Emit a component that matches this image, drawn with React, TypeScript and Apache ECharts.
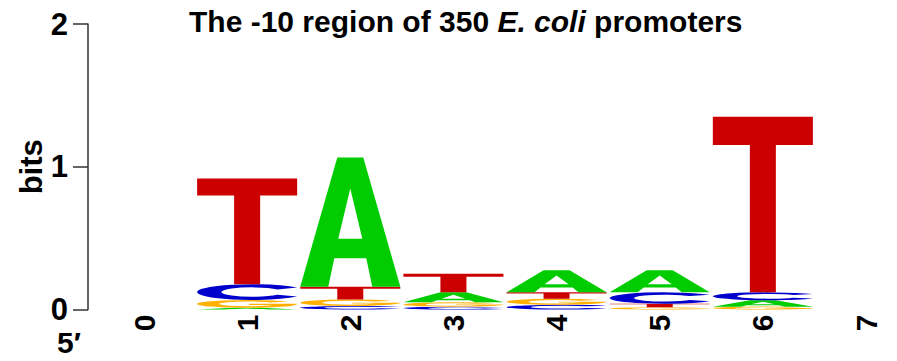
import React, { useEffect, useRef } from "react";
import * as echarts from "echarts";

// Sequence logo data (bits per letter at each position)
const POSITIONS = [1, 2, 3, 4, 5, 6];
const A_BITS = [0.012, 0.905, 0.07, 0.155, 0.155, 0.045];
const C_BITS = [0.11, 0.025, 0.02, 0.033, 0.08, 0.055];
const G_BITS = [0.055, 0.045, 0.03, 0.042, 0.015, 0.02];
const T_BITS = [0.74, 0.09, 0.13, 0.045, 0.025, 1.23];
const X_LABELS = ["0", "1", "2", "3", "4", "5", "6", "7"];
const Y_TICKS = [0, 1, 2];

const LETTERS = ["A", "C", "G", "T"];
const COLORS = ["#00cc00", "#0000cc", "#ffb000", "#cc0000"];
const PATHS = [
  // A
  "M0,100 L37,0 L63,0 L100,100 L72,100 L66,78 L34,78 L28,100 Z M50,24 L38,63 L62,63 Z",
  // C
  "M90.96,21.32 A50,50 0 1 0 90.96,78.68 L72.94,67.21 A28,30 0 1 1 72.94,32.79 Z",
  // G
  "M90.96,21.32 A50,50 0 1 0 100,50 L52,50 L52,63 L75.2,63 A28,30 0 1 1 72.94,32.79 Z",
  // T
  "M0,0 L100,0 L100,16 L63,16 L63,100 L37,100 L37,16 L0,16 Z",
];

const FONT = "'Liberation Sans', Arial, Helvetica, sans-serif";

function buildStacks() {
  const out: number[][] = [];
  const cols = [A_BITS, C_BITS, G_BITS, T_BITS];
  POSITIONS.forEach((pos, i) => {
    const items = cols.map((arr, li) => ({ li, h: arr[i] }));
    items.sort((a, b) => a.h - b.h);
    let base = 0;
    items.forEach((it) => {
      out.push([pos, base, base + it.h, it.li]);
      base += it.h;
    });
  });
  return out;
}

export default function App() {
  const ref = useRef<HTMLDivElement>(null);
  useEffect(() => {
    if (!ref.current) return;
    const chart = echarts.init(ref.current, null, { renderer: "svg" });
    const data = buildStacks();
    const yMin = Y_TICKS[0];
    const yMax = Y_TICKS[Y_TICKS.length - 1];
    chart.setOption({
      animation: false,
      backgroundColor: "#ffffff",
      title: {
        text: "{b|The -10 region of 350 }{i|E. coli}{b| promoters}",
        left: 189,
        top: 6,
        padding: 0,
        textStyle: {
          rich: {
            b: { fontFamily: FONT, fontWeight: "bold", fontSize: 30, color: "#000", lineHeight: 30 },
            i: { fontFamily: FONT, fontWeight: "bold", fontStyle: "italic", fontSize: 30, color: "#000", lineHeight: 30 },
          },
        },
      },
      grid: [
        { left: 88, right: 897 - 89, top: 24, bottom: 51.5, containLabel: false },
        { left: 144, right: 31, top: 24, bottom: 51.5, containLabel: false },
      ],
      xAxis: [
        {
          gridIndex: 0,
          type: "value",
          min: 0,
          max: 1,
          show: false,
        },
        {
          gridIndex: 1,
          type: "value",
          min: 0,
          max: 7,
          interval: 1,
          axisLine: { show: false },
          axisTick: { show: false },
          splitLine: { show: false },
          axisLabel: {
            rotate: 90,
            margin: 5,
            fontFamily: FONT,
            fontWeight: "bold",
            fontSize: 30,
            color: "#000",
            formatter: (v: number) => X_LABELS[v] ?? "",
          },
        },
      ],
      yAxis: [
        {
          gridIndex: 0,
          type: "value",
          min: yMin,
          max: yMax,
          interval: 1,
          name: "bits",
          nameLocation: "middle",
          nameRotate: 90,
          nameGap: 33,
          nameTextStyle: { fontFamily: FONT, fontWeight: "bold", fontSize: 31, color: "#000" },
          axisLine: { show: true, lineStyle: { color: "#333", width: 1.5 } },
          axisTick: { show: true, length: 15, lineStyle: { color: "#333", width: 1.5 } },
          splitLine: { show: false },
          axisLabel: {
            margin: 20,
            fontFamily: FONT,
            fontWeight: "bold",
            fontSize: 31,
            color: "#000",
          },
        },
        {
          gridIndex: 1,
          type: "value",
          min: yMin,
          max: yMax,
          interval: 1,
          show: false,
          splitLine: { show: false },
        },
      ],
      graphic: [
        {
          type: "text",
          left: 57,
          top: 327,
          style: { text: "5\u2032", fontFamily: FONT, fontWeight: "bold", fontSize: 30, fill: "#000" },
        },
      ],
      series: [
        {
          type: "custom",
          xAxisIndex: 1,
          yAxisIndex: 1,
          data,
          encode: { x: 0, y: [1, 2] },
          renderItem: (params: any, api: any) => {
            const x = api.value(0);
            const y0 = api.value(1);
            const y1 = api.value(2);
            const li = api.value(3);
            const p0 = api.coord([x - 0.485, y0]);
            const p1 = api.coord([x + 0.485, y1]);
            const h = p0[1] - p1[1];
            if (h <= 0.05) return null;
            return {
              type: "path",
              shape: {
                pathData: PATHS[li],
                x: p0[0],
                y: p1[1],
                width: p1[0] - p0[0],
                height: h,
                layout: "cover",
              },
              style: { fill: COLORS[li] },
              name: LETTERS[li],
            };
          },
        },
      ],
    });
    return () => chart.dispose();
  }, []);
  return (
    <div
      ref={ref}
      style={{ position: "fixed", left: 0, top: 0, width: 897, height: 361, background: "#fff" }}
    />
  );
}
